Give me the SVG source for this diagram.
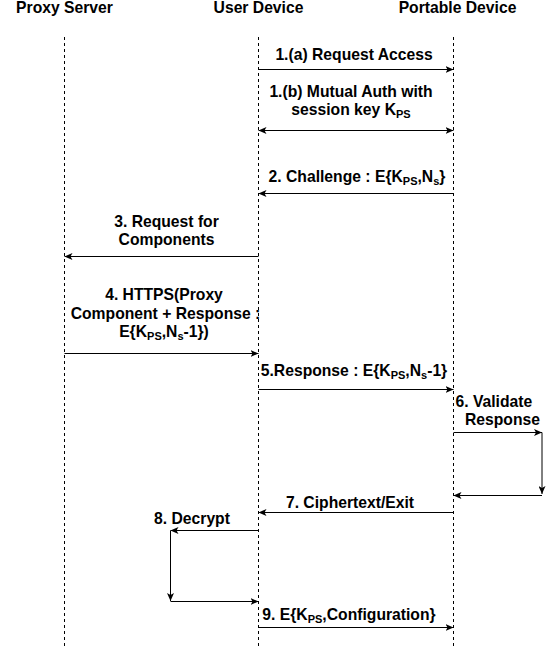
<svg xmlns="http://www.w3.org/2000/svg" width="551" height="648" viewBox="0 0 551 648">
  <style>
    text { font-family: "Liberation Sans", Arial, Helvetica, sans-serif; font-weight: bold; font-size: 15.7px; fill: #000; }
    .c { text-anchor: middle; }
    .sub { font-size: 11px; }
    .life { stroke: #000; stroke-width: 1; stroke-dasharray: 3 3; fill: none; }
    .msg { stroke: #000; stroke-width: 1; fill: none; marker-end: url(#ah); }
    .both { marker-start: url(#ah); }
  </style>
  <defs>
    <marker id="ah" viewBox="0 0 8 7" refX="8" refY="3.5" markerWidth="8" markerHeight="7" orient="auto-start-reverse" markerUnits="userSpaceOnUse">
      <path d="M0,0 L8,3.5 L0,7 L2,3.5 z" fill="#000"/>
    </marker>
  </defs>
  <rect width="551" height="648" fill="#fff"/>

  <g id="proxy-server">
    <text class="c" x="64.5" y="13">Proxy Server</text>
    <line class="life" x1="64.5" y1="37" x2="64.5" y2="648"/>
  </g>
  <g id="user-device">
    <text class="c" x="258.5" y="13">User Device</text>
    <line class="life" x1="258.5" y1="37" x2="258.5" y2="648"/>
  </g>
  <g id="portable-device">
    <text class="c" x="457.5" y="13">Portable Device</text>
    <line class="life" x1="453.5" y1="37" x2="453.5" y2="648"/>
  </g>

  <g id="connectors">
    <line class="msg" x1="258.5" y1="69.5" x2="453.5" y2="69.5"/>
    <line class="msg both" x1="258.5" y1="130.5" x2="453.5" y2="130.5"/>
    <line class="msg" x1="453.5" y1="193.5" x2="258.5" y2="193.5"/>
    <line class="msg" x1="258.5" y1="256.5" x2="64.5" y2="256.5"/>
    <line class="msg" x1="64.5" y1="353.5" x2="258.5" y2="353.5"/>
    <line class="msg" x1="258.5" y1="389.5" x2="453.5" y2="389.5"/>
    <line class="msg" x1="453.5" y1="432.5" x2="542" y2="432.5"/>
    <line class="msg" x1="542" y1="432.5" x2="542" y2="494"/>
    <line class="msg" x1="542" y1="495.5" x2="453.5" y2="495.5"/>
    <line class="msg" x1="453.5" y1="512.5" x2="258.5" y2="512.5"/>
    <line class="msg" x1="258.5" y1="530.5" x2="170.5" y2="530.5"/>
    <line class="msg" x1="170.5" y1="530.5" x2="170.5" y2="601"/>
    <line class="msg" x1="170.5" y1="601.5" x2="258.5" y2="601.5"/>
    <line class="msg" x1="258.5" y1="627.5" x2="453.5" y2="627.5"/>
  </g>

  <g id="labels">
    <text class="c" x="354" y="60">1.(a) Request Access</text>
    <text class="c" x="351" y="96.5">1.(b) Mutual Auth with</text>
    <text class="c" x="351" y="114.5">session key K<tspan class="sub" dy="3">PS</tspan></text>
    <text class="c" x="357" y="181.5">2. Challenge : E{K<tspan class="sub" dy="3">PS</tspan><tspan dy="-3">,N</tspan><tspan class="sub" dy="3">s</tspan><tspan dy="-3">}</tspan></text>
    <text class="c" x="166.5" y="226.5">3. Request for</text>
    <text class="c" x="166.5" y="245">Components</text>
    <text class="c" x="164" y="299.5">4. HTTPS(Proxy</text>
    <text class="c" x="165.5" y="318.5">Component + Response :</text>
    <text class="c" x="164" y="337">E{K<tspan class="sub" dy="3">PS</tspan><tspan dy="-3">,N</tspan><tspan class="sub" dy="3">s</tspan><tspan dy="-3">-1})</tspan></text>
    <text class="c" x="354" y="376">5.Response : E{K<tspan class="sub" dy="3">PS</tspan><tspan dy="-3">,N</tspan><tspan class="sub" dy="3">s</tspan><tspan dy="-3">-1}</tspan></text>
    <text x="455.5" y="406.7">6. Validate</text>
    <text x="465" y="425">Response</text>
    <text class="c" x="350" y="508.3">7. Ciphertext/Exit</text>
    <text class="c" x="192" y="524">8. Decrypt</text>
    <text class="c" x="349" y="620">9. E{K<tspan class="sub" dy="3">PS</tspan><tspan dy="-3">,Configuration}</tspan></text>
  </g>
</svg>
